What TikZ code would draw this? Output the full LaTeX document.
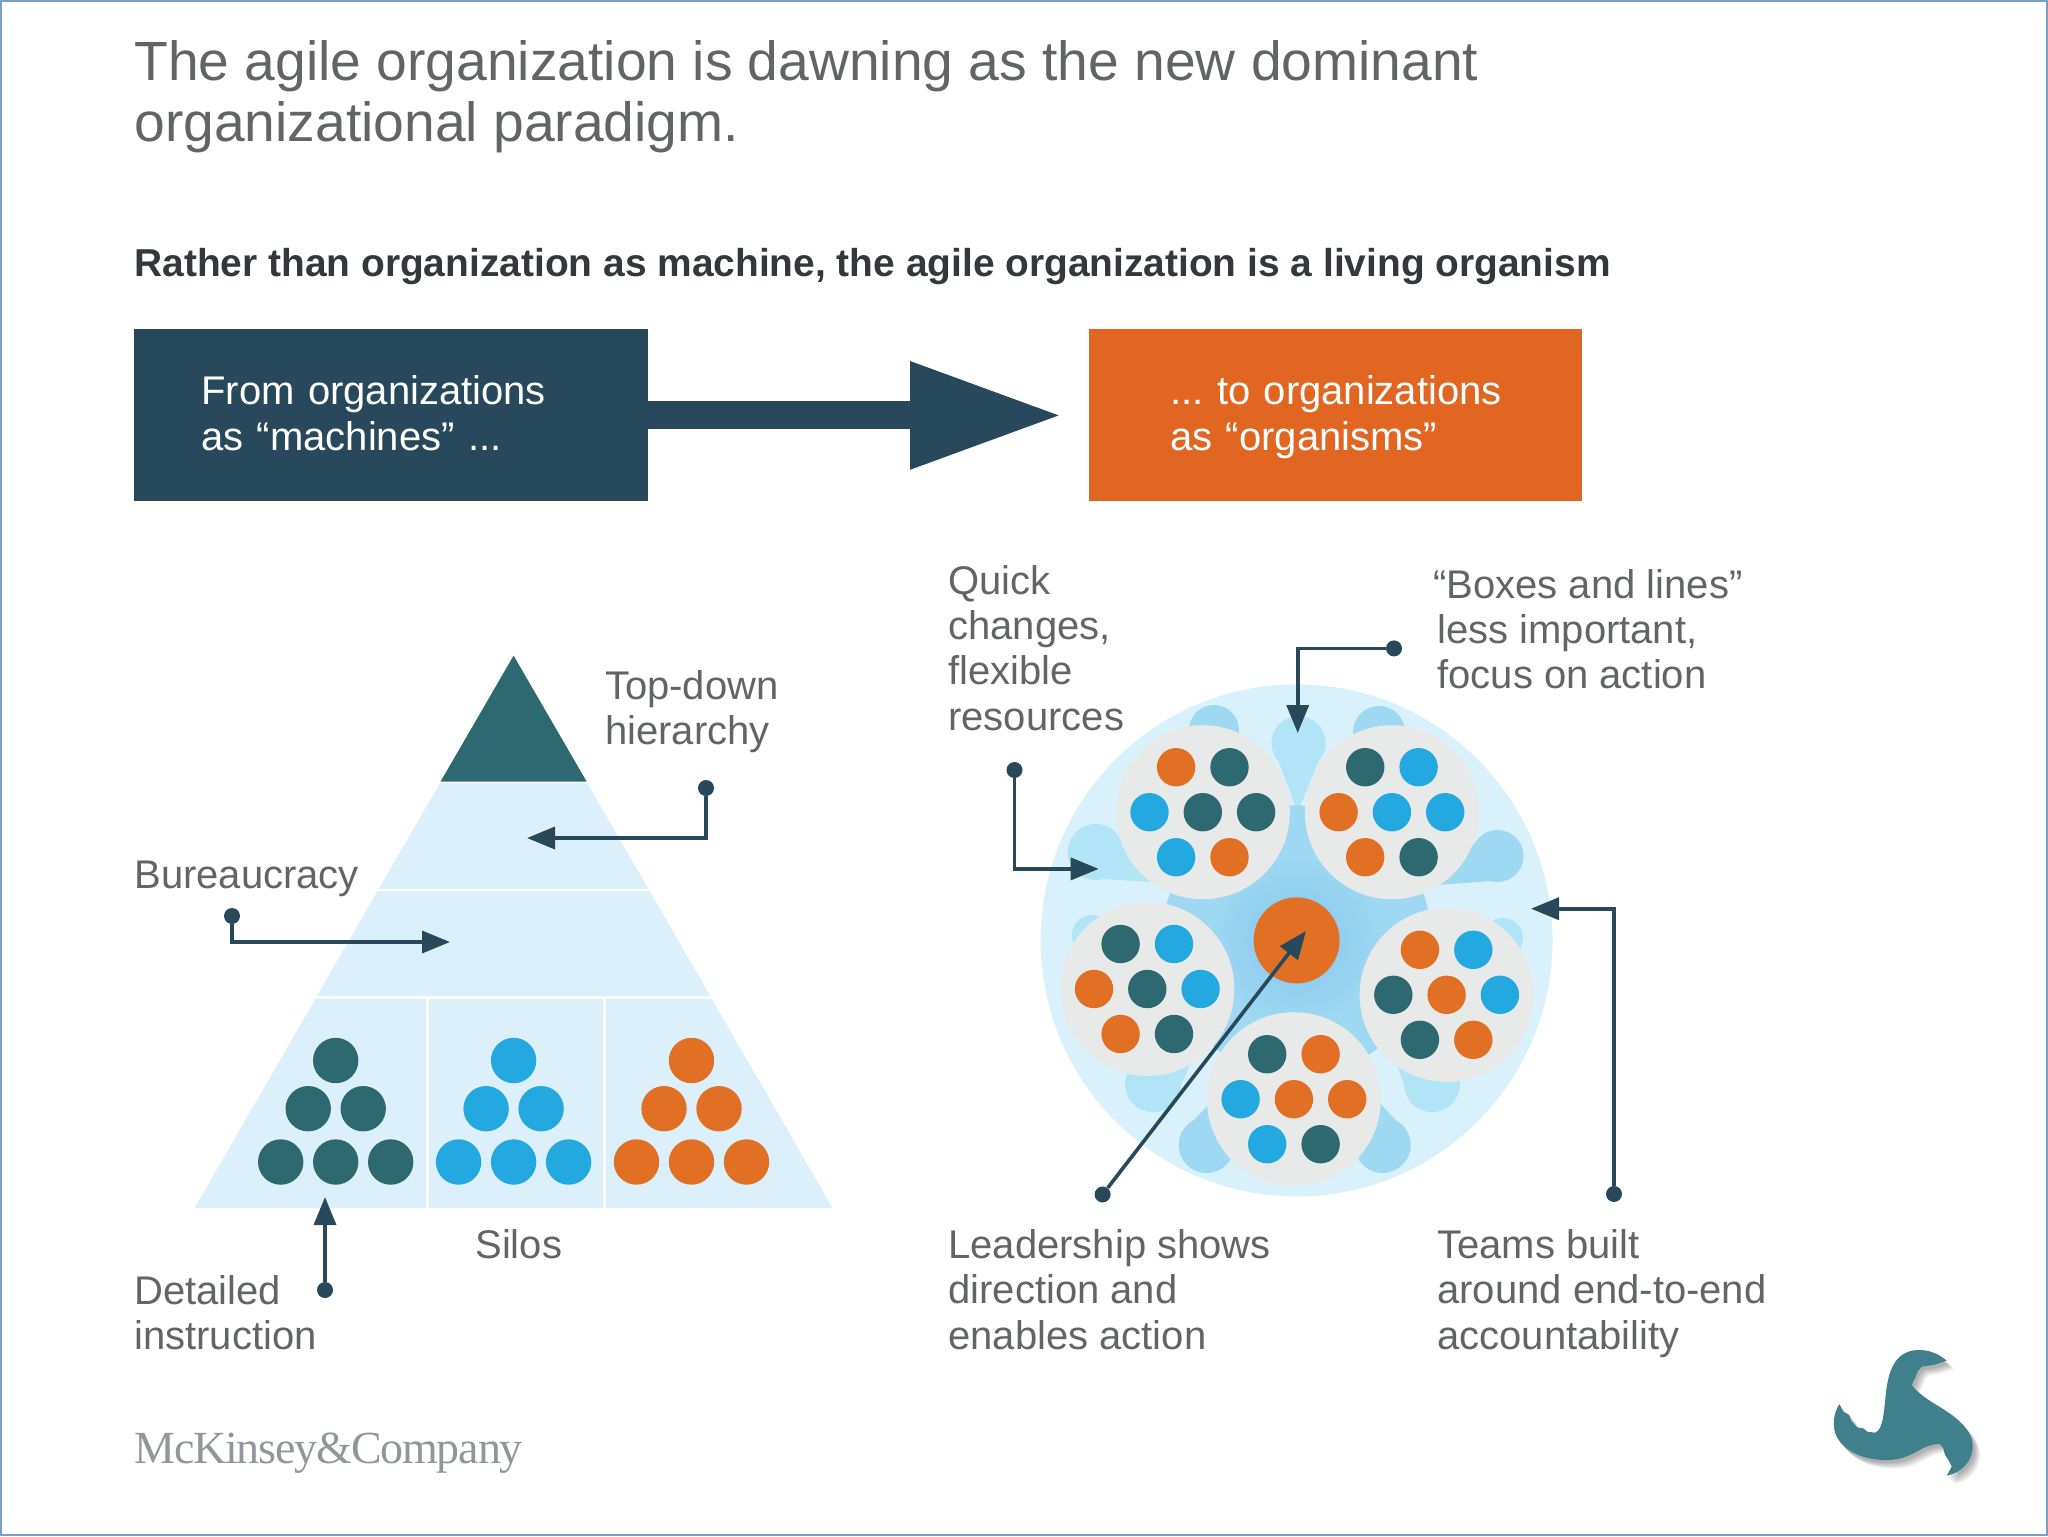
\documentclass[tikz,border=0pt]{standalone}
\usepackage{fontspec}
\setmainfont{Liberation Sans}
\newfontfamily\logofont[LetterSpace=-2.6]{Liberation Serif}
\usetikzlibrary{arrows.meta, positioning, calc}
\definecolor{navy1}{RGB}{40, 72, 92}
\definecolor{orange1}{RGB}{224, 102, 34}
\definecolor{ball1}{RGB}{226, 112, 36}
\definecolor{teal1}{RGB}{46, 104, 113}
\definecolor{sky1}{RGB}{36, 168, 224}
\definecolor{pale1}{RGB}{219, 240, 250}
\definecolor{pale2}{RGB}{216, 241, 250}
\definecolor{lobe1}{RGB}{176, 228, 246}
\definecolor{lobe2}{RGB}{158, 216, 242}
\definecolor{glow1}{RGB}{132, 196, 238}
\definecolor{team1}{RGB}{232, 233, 233}
\definecolor{text1}{RGB}{99, 100, 102}
\definecolor{head1}{RGB}{52, 56, 60}
\definecolor{mck1}{RGB}{146, 150, 152}
\definecolor{frame1}{RGB}{120, 160, 200}
\definecolor{logo1}{RGB}{64, 128, 140}
\newcommand{\logopath}{(500,122) .. controls (470,95) and (430,85) .. (395,92) .. controls (340,105) and (325,160) .. (318,215) .. controls (312,270) and (310,330) .. (285,338) -- (262,335) -- (250,325) -- (232,322) -- (215,305) -- (208,285) -- (190,275) -- (178,252) .. controls (160,280) and (155,320) .. (170,350) .. controls (195,395) and (250,420) .. (320,420) .. controls (400,420) and (420,372) .. (480,372) -- (490,385) -- (495,405) -- (505,420) -- (515,440) -- (500,467) .. controls (540,460) and (578,425) .. (578,380) .. controls (578,320) and (510,280) .. (470,255) .. controls (440,238) and (410,215) .. (395,195) -- (405,175) -- (412,155) -- (425,140) -- (460,135) -- cycle}

\begin{document}
\frenchspacing
\begin{tikzpicture}[
  x=0.5pt, y=-0.5pt,
  banner/.style={minimum height=86pt, inner sep=0pt, text=white, font=\fontsize{20}{22.65}\selectfont, align=left},
  label/.style={anchor=north west, inner sep=0pt, text=text1, font=\fontsize{20}{22.65}\selectfont, align=left},
  pin/.style={circle, fill=navy1, minimum size=8pt, inner sep=0pt},
  leader/.style={draw=navy1, line width=1.8pt, -{Stealth[inset=0pt, length=14pt, width=11pt]}},
  ball/.style={circle, minimum size=22.7pt, inner sep=0pt},
  teamball/.style={circle, minimum size=19.2pt, inner sep=0pt},
  team/.style={circle, fill=team1, minimum size=87pt, inner sep=0pt}
]
  \useasboundingbox (0,0) rectangle (2048,1536);
  \draw[frame1, line width=1pt] (1,1) rectangle (2047,1535);

  % headings
  \node[anchor=north west, inner sep=0pt, text=text1, font=\fontsize{27.6}{30.5}\selectfont, align=left] (title) at (134,40) {The agile organization is dawning as the new dominant\\organizational paradigm.};
  \node[anchor=north west, inner sep=0pt, text=head1, font=\fontsize{19.45}{22}\selectfont\bfseries] (subtitle) at (134,248) {Rather than organization as machine, the agile organization is a living organism};

  % banners
  \node[banner, fill=navy1, minimum width=257pt, anchor=north west, text width=190pt, inner xsep=33.5pt] (machines) at (134,329) {\rule{0pt}{19pt}From organizations\\as “machines” ...\strut};
  \node[banner, fill=orange1, minimum width=246.5pt, anchor=north west, text width=165.5pt, inner xsep=40.5pt] (organisms) at (1089,329) {\rule{0pt}{19pt}\mbox{... to organizations}\\as “organisms”\strut};
  \draw[navy1, line width=14pt, -{Triangle[length=76.5pt, width=50pt]}, shorten >=13pt, shorten <=-1pt] (machines) -- (organisms);

  % pyramid
  \fill[teal1] (513.6,655.6) -- (586.6,781.5) -- (440.6,781.5) -- cycle;
  \fill[pale1] (440,783) -- (587.2,783) -- (648.5,889) -- (378.7,889) -- cycle;
  \fill[pale1] (377.6,891) -- (649.6,891) -- (710.3,996) -- (316.9,996) -- cycle;
  \fill[pale1] (315.6,998.5) -- (426,998.5) -- (426,1208) -- (194.6,1208) -- cycle;
  \fill[pale1] (429,998.5) -- (603,998.5) -- (603,1208) -- (429,1208) -- cycle;
  \fill[pale1] (606,998.5) -- (711.6,998.5) -- (832.6,1208) -- (606,1208) -- cycle;
  \foreach \px/\col [count=\k] in {335.7/teal1, 513.6/sky1, 691.5/ball1} {
    \foreach \dx/\py [count=\j] in {0/1060.5, -27.5/1108.7, 27.5/1108.7, -55/1162, 0/1162, 55/1162} {
      \node[ball, fill=\col] (silo\k-\j) at ({\px+\dx},\py) {};
    }
  }

  % organism
  \fill[pale2] (1296.6,940.4) circle[radius=256];
  \coordinate (hub) at (1296.6,940.4);
  \foreach \lx/\ly/\lr/\col in {1298.5/743/27/lobe1, 1214/730/25/lobe2, 1379/732/26/lobe2, 1095.7/852/28/lobe1, 1497.5/856/26/lobe2, 1092/935/20/lobe1, 1503/938/20/lobe1, 1153/1084/28/lobe1, 1432/1084/28/lobe1, 1206.7/1145/28/lobe2, 1382.7/1145/28/lobe2} {
    \fill[\col] ($(\lx,\ly)!\lr*0.5pt!90:(hub)$) -- ($(\lx,\ly)!0.35!(hub)$) -- ($(\lx,\ly)!\lr*0.5pt!-90:(hub)$) -- cycle;
    \fill[\col] (\lx,\ly) circle[radius=\lr];
  }
  \fill[lobe2] (hub) circle[radius=135];
  \shade[inner color=glow1, outer color=lobe2] (hub) circle[radius=85];
  \foreach \cx/\cy/\ca/\cb/\cc/\cd/\ce/\cf/\cg [count=\k] in {
    1202.8/812.2/ball1/teal1/sky1/teal1/teal1/sky1/ball1,
    1391.9/812.2/teal1/sky1/ball1/sky1/sky1/ball1/teal1,
    1147.3/989/teal1/sky1/ball1/teal1/sky1/ball1/teal1,
    1446.6/994.8/ball1/sky1/teal1/ball1/sky1/teal1/ball1,
    1293.9/1099.2/teal1/ball1/sky1/ball1/ball1/sky1/teal1} {
    \node[team] (team\k) at (\cx,\cy) {};
    \node[teamball, fill=\ca] (team\k-a) at ({\cx-26.7},{\cy-45}) {};
    \node[teamball, fill=\cb] (team\k-b) at ({\cx+26.7},{\cy-45}) {};
    \node[teamball, fill=\cc] (team\k-c) at ({\cx-53.3},\cy) {};
    \node[teamball, fill=\cd] (team\k-d) at (\cx,\cy) {};
    \node[teamball, fill=\ce] (team\k-e) at ({\cx+53.3},\cy) {};
    \node[teamball, fill=\cf] (team\k-f) at ({\cx-26.7},{\cy+45}) {};
    \node[teamball, fill=\cg] (team\k-g) at ({\cx+26.7},{\cy+45}) {};
  }
  \node[circle, fill=ball1, minimum size=43pt, inner sep=0pt] (leader) at (hub) {};

  % labels
  \node[label] (tophier) at (604.7,670) {Top-down\\hierarchy};
  \node[label] (bureau) at (134,861) {Bureaucracy};
  \node[label] (detailed) at (134,1275) {Detailed\\instruction};
  \node[label] (silos) at (475,1229) {Silos};
  \node[label] (quick) at (948,565) {Quick\\changes,\\flexible\\resources};
  \node[label] (boxes) at (1433,569) {“Boxes and lines”\\\hspace{2pt}less important,\\\hspace{2pt}focus on action};
  \node[label] (shows) at (948,1229) {Leadership shows\\direction and\\enables action};
  \node[label] (teams) at (1437,1229) {Teams built\\around end-to-end\\accountability};
  \node[anchor=base west, inner sep=0pt, text=mck1, font=\logofont\fontsize{23}{25}\selectfont] (mck) at (134,1463) {McKinsey\&Company};

  % leaders
  \node[pin] (pinTop) at (706,788) {};
  \coordinate (tipTop) at (527,838);
  \draw[leader] (pinTop) |- (tipTop);
  \node[pin] (pinBureau) at (232,916) {};
  \coordinate (tipBureau) at (450,942);
  \draw[leader] (pinBureau) |- (tipBureau);
  \node[pin] (pinDetail) at (325,1290) {};
  \coordinate (tipDetail) at (325,1197);
  \draw[leader] (pinDetail) -- (tipDetail);
  \node[pin] (pinBoxes) at (1394,648.4) {};
  \coordinate (tipBoxes) at (1297.7,733);
  \draw[leader] (pinBoxes) -| (tipBoxes);
  \node[pin] (pinQuick) at (1014.5,770) {};
  \coordinate (tipQuick) at (1098.7,868.9);
  \draw[leader] (pinQuick) |- (tipQuick);
  \node[pin] (pinTeams) at (1614,1194) {};
  \coordinate (tipTeams) at (1531,908.7);
  \draw[leader] (pinTeams) |- (tipTeams);
  \node[pin] (pinShows) at (1102.6,1194.5) {};
  \coordinate (tipShows) at (1306,931);
  \draw[leader] (pinShows) -- (tipShows);

  % logo
  \begin{scope}[shift={(1780,1320)}, x=0.1667pt, y=-0.1667pt]
    \foreach \ox in {6,10,14,18,22} {
      \fill[black, opacity=0.07, shift={(\ox,{\ox+3})}] \logopath;
    }
    \fill[logo1] \logopath;
  \end{scope}
\end{tikzpicture}
\end{document}
